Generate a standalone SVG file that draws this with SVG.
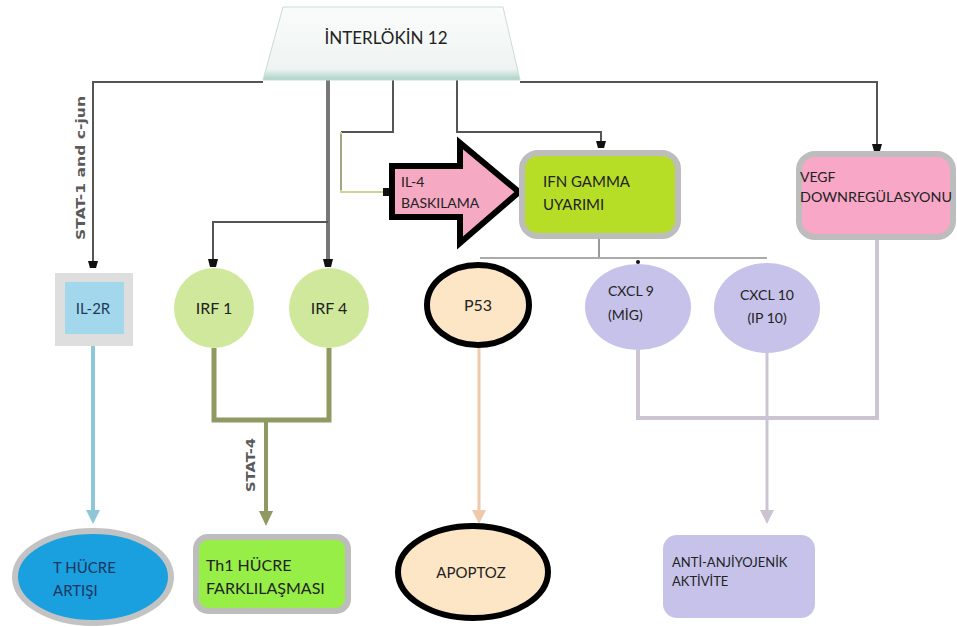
<svg xmlns="http://www.w3.org/2000/svg" width="957" height="627" viewBox="0 0 957 627">
<defs>
<linearGradient id="tg" x1="0" y1="0" x2="0" y2="1">
<stop offset="0" stop-color="#fafcfb"/>
<stop offset="0.85" stop-color="#eef4f2"/>
<stop offset="1" stop-color="#a9d2c6"/>
</linearGradient>
</defs>
<style>
text{font-family:Lato,"Liberation Sans",Arial,sans-serif;fill:#222}
.s13{font-size:13px}
.s14{font-size:14px}
.s15{font-size:15px}
.s16{font-size:16px}
.s17{font-size:17px}
.ln{fill:none;stroke:#555;stroke-width:2}
.gb{stroke:#bdbdbd;stroke-width:6}
.lbl{font-family:"DejaVu Sans","Liberation Sans",Arial,sans-serif;font-size:12px;fill:#5a5a5a;font-weight:bold}
.hd{fill:#111}
</style>
<rect width="957" height="627" fill="#ffffff"/>

<g id="connectors">
<polyline class="ln" points="263,82 93,82 93,266" stroke="#5a5a5a"/>
<path class="hd" d="M88,261 L98,261 L96,268 L90,268 Z"/>
<polyline class="ln" points="520,82 877,82 877,145"/>
<path class="hd" d="M872,144 L882,144 L880,151 L874,151 Z"/>
<line x1="328" y1="78" x2="328" y2="262" stroke="#777" stroke-width="4"/>
<polyline class="ln" points="328,222 213,222 213,262" stroke="#888"/>
<path class="hd" d="M208,259 L218,259 L216,267 L210,267 Z"/>
<path class="hd" d="M323,259 L333,259 L331,267 L325,267 Z"/>
<polyline class="ln" points="393,78 393,132 341,132" stroke="#666"/>
<polyline points="341,132 341,192 388,192" fill="none" stroke="#c9d890" stroke-width="2"/>
<line x1="341" y1="134" x2="341" y2="190" stroke="#777" stroke-width="1"/>
<path class="hd" d="M383,188 L391,188 L391,196 L383,196 Z"/>
<polyline class="ln" points="457,78 457,132 601,132 601,146"/>
<path class="hd" d="M596,141 L606,141 L604,148 L598,148 Z"/>
<line x1="599" y1="238" x2="599" y2="258" stroke="#999" stroke-width="2"/>
<line x1="480" y1="258" x2="767" y2="258" stroke="#aaa" stroke-width="2"/>
<circle class="hd" cx="638" cy="262" r="2"/>
<line x1="93" y1="346" x2="93" y2="512" stroke="#8ec6da" stroke-width="4"/>
<path d="M86,510 L100,510 L93,524 Z" fill="#8ec6da"/>
<polyline points="214,348 214,420 329,420 329,348" fill="none" stroke="#8f9a63" stroke-width="5"/>
<line x1="266" y1="420" x2="266" y2="514" stroke="#8f9a63" stroke-width="4"/>
<path d="M259,511 L273,511 L266,526 Z" fill="#8f9a63"/>
<line x1="479" y1="347" x2="479" y2="512" stroke="#efc9aa" stroke-width="3"/>
<path d="M472,510 L486,510 L479,524 Z" fill="#efc9aa"/>
<polyline points="638,350 638,418 877,418 877,238" fill="none" stroke="#cdc4d3" stroke-width="4"/>
<line x1="767" y1="353" x2="767" y2="512" stroke="#cdc4d3" stroke-width="3"/>
<path d="M760,510 L774,510 L767,524 Z" fill="#cdc4d3"/>
<text class="lbl" transform="translate(85,168) rotate(-90)" text-anchor="middle" textLength="144" lengthAdjust="spacingAndGlyphs">STAT-1 and c-jun</text>
<text class="lbl" transform="translate(255,465) rotate(-90)" text-anchor="middle" textLength="54" lengthAdjust="spacingAndGlyphs">STAT-4</text>
</g>

<g id="interlokin">
<path d="M283,7 L503,7 L520,80 L263,80 Z" fill="url(#tg)" stroke="#c8ddd6" stroke-width="1"/>
<text class="s17" x="386" y="44" text-anchor="middle">İNTERLÖKİN 12</text>
</g>

<g id="il4">
<path d="M392,166 L460,166 L460,143 L519,192 L460,243 L460,217 L392,217 Z" fill="#f5a9c3" stroke="#000" stroke-width="6"/>
<text class="s14" x="401" y="187">IL-4</text>
<text class="s14" x="401" y="208">BASKILAMA</text>
</g>

<g id="ifn">
<rect x="522" y="153" width="156" height="83" rx="16" fill="#b7de27" class="gb"/>
<text class="s15" x="543" y="187">IFN GAMMA</text>
<text class="s15" x="543" y="210">UYARIMI</text>
</g>

<g id="vegf">
<rect x="799" y="154" width="154" height="83" rx="16" fill="#f8a8c6" class="gb"/>
<text class="s14" x="800" y="182">VEGF</text>
<text class="s14" x="800" y="202" textLength="152" lengthAdjust="spacingAndGlyphs">DOWNREGÜLASYONU</text>
</g>

<g id="il2r">
<rect x="55" y="273" width="78" height="73" fill="#dedede"/>
<rect x="65" y="282" width="59" height="52" fill="#a3d8ec"/>
<text class="s15" x="93" y="314" text-anchor="middle" style="fill:#1f3b58">IL-2R</text>
</g>

<g id="irf1">
<circle cx="214" cy="308" r="40" fill="#cfe89b"/>
<text class="s16" x="214" y="314" text-anchor="middle">IRF 1</text>
</g>

<g id="irf4">
<circle cx="329" cy="308" r="40" fill="#cfe89b"/>
<text class="s16" x="329" y="314" text-anchor="middle">IRF 4</text>
</g>

<g id="p53">
<ellipse cx="478" cy="305" rx="51" ry="40" fill="#fde6c6" stroke="#000" stroke-width="6"/>
<text class="s16" x="478" y="311" text-anchor="middle">P53</text>
</g>

<g id="cxcl9">
<ellipse cx="638" cy="307" rx="53" ry="43" fill="#c7c2e9"/>
<text class="s14" x="608" y="296">CXCL 9</text>
<text class="s14" x="608" y="320">(MİG)</text>
</g>

<g id="cxcl10">
<ellipse cx="767" cy="308" rx="53" ry="45" fill="#c7c2e9"/>
<text class="s14" x="767" y="300" text-anchor="middle">CXCL 10</text>
<text class="s14" x="767" y="323" text-anchor="middle">(IP 10)</text>
</g>

<g id="thucre">
<ellipse cx="93" cy="577" rx="78" ry="46" fill="#1aa0df" stroke="#c3c3c3" stroke-width="6"/>
<text class="s15" x="53" y="573" style="fill:#1c3560">T HÜCRE</text>
<text class="s15" x="53" y="596" style="fill:#1c3560">ARTIŞI</text>
</g>

<g id="th1">
<rect x="196" y="537" width="152" height="74" rx="12" fill="#96ee46" class="gb"/>
<text class="s16" x="206" y="571">Th1 HÜCRE</text>
<text class="s16" x="206" y="594">FARKLILAŞMASI</text>
</g>

<g id="apoptoz">
<ellipse cx="473" cy="572" rx="75" ry="46" fill="#fde6c6" stroke="#000" stroke-width="6"/>
<text class="s15" x="471" y="578" text-anchor="middle">APOPTOZ</text>
</g>

<g id="anti">
<rect x="663" y="535" width="152" height="83" rx="14" fill="#c7c2ea"/>
<text class="s13" x="672" y="567">ANTİ-ANJİYOJENİK</text>
<text class="s13" x="672" y="586">AKTİVİTE</text>
</g>
</svg>
